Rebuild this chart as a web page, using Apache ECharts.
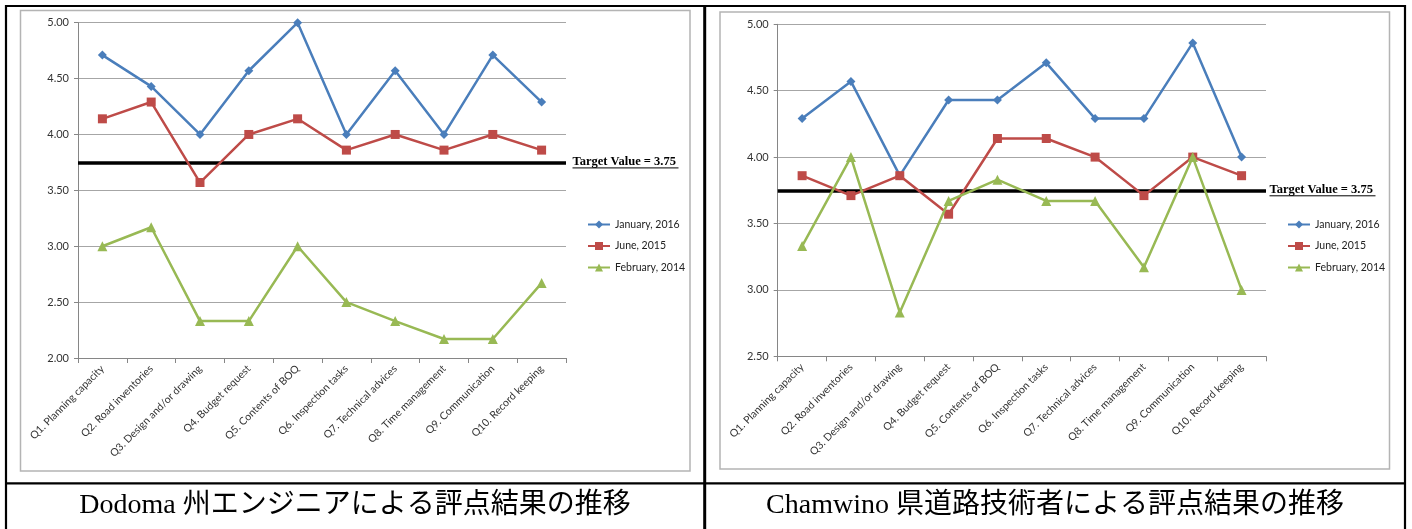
<!DOCTYPE html>
<html>
<head>
<meta charset="utf-8">
<title>評点結果の推移</title>
<script src="https://cdn.jsdelivr.net/npm/echarts@6/dist/echarts.min.js"></script>
<style>
  html, body { margin: 0; padding: 0; background: #ffffff; }
  #chart { width: 1412px; height: 529px; }
</style>
</head>
<body>
<div id="chart"></div>
<script>
// Survey questions (x axis)
const categories = [
  'Q1. Planning capacity', 'Q2. Road inventories', 'Q3. Design and/or drawing',
  'Q4. Budget request', 'Q5. Contents of BOQ', 'Q6. Inspection tasks',
  'Q7. Technical advices', 'Q8. Time management', 'Q9. Communication',
  'Q10. Record keeping'
];

// Survey rounds (legend)
const roundNames = ['January, 2016', 'June, 2015', 'February, 2014'];

// Dodoma regional engineers: mean scores per question
const dodomaJan2016 = [4.71, 4.43, 4.00, 4.57, 5.00, 4.00, 4.57, 4.00, 4.71, 4.29];
const dodomaJun2015 = [4.14, 4.29, 3.57, 4.00, 4.14, 3.86, 4.00, 3.86, 4.00, 3.86];
const dodomaFeb2014 = [3.00, 3.17, 2.33, 2.33, 3.00, 2.50, 2.33, 2.17, 2.17, 2.67];

// Chamwino district road engineers: mean scores per question
const chamwinoJan2016 = [4.29, 4.57, 3.86, 4.43, 4.43, 4.71, 4.29, 4.29, 4.86, 4.00];
const chamwinoJun2015 = [3.86, 3.71, 3.86, 3.57, 4.14, 4.14, 4.00, 3.71, 4.00, 3.86];
const chamwinoFeb2014 = [3.33, 4.00, 2.83, 3.67, 3.83, 3.67, 3.67, 3.17, 4.00, 3.00];

// Target score line
const targetValue = 3.75;
const targetLabel = 'Target Value = ' + targetValue.toFixed(2);

// Value axis ranges
const dodomaAxis = { min: 2.0, max: 5.0, interval: 0.5 };
const chamwinoAxis = { min: 2.5, max: 5.0, interval: 0.5 };

// Panel captions
const captions = [
  'Dodoma 州エンジニアによる評点結果の推移',
  'Chamwino 県道路技術者による評点結果の推移'
];

const COLORS = ['#4A7EBB', '#BE4B48', '#98B954'];
const SYMBOLS = ['diamond', 'rect', 'triangle'];
const SYMBOL_SIZES = [9, 9, 10];
const LABEL_FONT = 'Lato, "Open Sans", sans-serif';
const LABEL_COLOR = '#333333';

const grids = [
  { left: 78, top: 22.7, width: 488, height: 335.3 },
  { left: 777.7, top: 24.3, width: 488.3, height: 332 }
];

function makeXAxis(gridIndex) {
  return {
    type: 'category', gridIndex, data: categories, boundaryGap: true,
    axisLine: { lineStyle: { color: '#868686', width: 1 } },
    axisTick: { show: true, length: 5, interval: 0, lineStyle: { color: '#868686' } },
    axisLabel: {
      interval: 0, rotate: 45, margin: 9, fontSize: 10.5,
      fontFamily: LABEL_FONT, color: LABEL_COLOR
    },
    splitLine: { show: false }
  };
}

function makeYAxis(gridIndex, range) {
  return {
    type: 'value', gridIndex, min: range.min, max: range.max, interval: range.interval,
    axisLine: { show: true, lineStyle: { color: '#868686', width: 1 } },
    axisTick: { show: true, length: 4, lineStyle: { color: '#868686' } },
    axisLabel: {
      margin: 9, fontSize: 11, fontFamily: LABEL_FONT, color: LABEL_COLOR,
      formatter: v => v.toFixed(2)
    },
    splitLine: { show: true, lineStyle: { color: '#a6a6a6', width: 1 } }
  };
}

function makeSeries(gridIndex, valueLists) {
  return valueLists.map((values, i) => {
    const s = {
      name: roundNames[i], type: 'line',
      xAxisIndex: gridIndex, yAxisIndex: gridIndex,
      data: values,
      symbol: SYMBOLS[i], symbolSize: SYMBOL_SIZES[i], showAllSymbol: true,
      itemStyle: { color: COLORS[i] },
      lineStyle: { color: COLORS[i], width: 2.5 },
      z: 3 + i
    };
    if (i === 0) {
      s.markLine = {
        silent: true, symbol: 'none', animation: false,
        label: { show: false },
        lineStyle: { color: '#000000', width: 3.5, type: 'solid' },
        data: [{ yAxis: targetValue }],
        z: 2
      };
    }
    return s;
  });
}

function makeLegend(left) {
  return {
    orient: 'vertical', left, top: 213.5,
    itemWidth: 22, itemHeight: 10, itemGap: 9.5,
    selectedMode: false,
    textStyle: { fontSize: 10.5, lineHeight: 12, fontFamily: LABEL_FONT, color: '#222222' },
    data: roundNames
  };
}

const chart = echarts.init(document.getElementById('chart'), null, { renderer: 'canvas' });

chart.setOption({
  animation: false,
  backgroundColor: '#ffffff',
  grid: grids.map(g => Object.assign({ containLabel: false, outerBoundsMode: 'none' }, g)),
  xAxis: [makeXAxis(0), makeXAxis(1)],
  yAxis: [makeYAxis(0, dodomaAxis), makeYAxis(1, chamwinoAxis)],
  legend: [makeLegend(582), makeLegend(1282)],
  series: [
    ...makeSeries(0, [dodomaJan2016, dodomaJun2015, dodomaFeb2014]),
    ...makeSeries(1, [chamwinoJan2016, chamwinoJun2015, chamwinoFeb2014])
  ]
});

// Table frame, chart frames, captions and target labels
const graphics = [];
const frameStyle = { fill: 'none', stroke: '#b4b4b4', lineWidth: 1.5 };
graphics.push({ type: 'rect', shape: { x: 20.5, y: 10.5, width: 669.5, height: 460.5 }, style: frameStyle, silent: true });
graphics.push({ type: 'rect', shape: { x: 720, y: 12, width: 669.5, height: 457 }, style: frameStyle, silent: true });

const black = { stroke: '#000000', lineWidth: 2.2 };
const tableLines = [
  [5, 6, 1406, 6],
  [6, 5, 6, 529],
  [704.7, 5, 704.7, 529],
  [1405, 5, 1405, 529],
  [5, 483.3, 1406, 483.3]
];
tableLines.forEach(([x1, y1, x2, y2], i) => {
  graphics.push({
    type: 'line', silent: true,
    shape: { x1, y1, x2, y2 },
    style: Object.assign({}, black, { lineWidth: i === 2 ? 3 : 2.2 })
  });
});

const cellCenters = [355, 1055];
captions.forEach((text, i) => {
  graphics.push({
    type: 'text', silent: true,
    style: {
      text, x: cellCenters[i], y: 506,
      align: 'center', verticalAlign: 'middle',
      font: '28px "Liberation Serif", "Noto Sans CJK JP", serif',
      fill: '#000000'
    }
  });
});

grids.forEach((g, i) => {
  const y = chart.convertToPixel({ gridIndex: i }, [0, targetValue])[1];
  const x = g.left + g.width + (i === 0 ? 6.5 : 3.5);
  graphics.push({
    type: 'text', silent: true,
    style: {
      text: targetLabel, x, y: y - 0.5,
      align: 'left', verticalAlign: 'middle',
      font: 'bold 12.5px "Liberation Serif", serif', fill: '#000000'
    }
  });
  graphics.push({
    type: 'line', silent: true,
    shape: { x1: x, y1: y + 5.5, x2: x + 106, y2: y + 5.5 },
    style: { stroke: '#000000', lineWidth: 1 }
  });
});

chart.setOption({ graphic: graphics });
</script>
</body>
</html>
